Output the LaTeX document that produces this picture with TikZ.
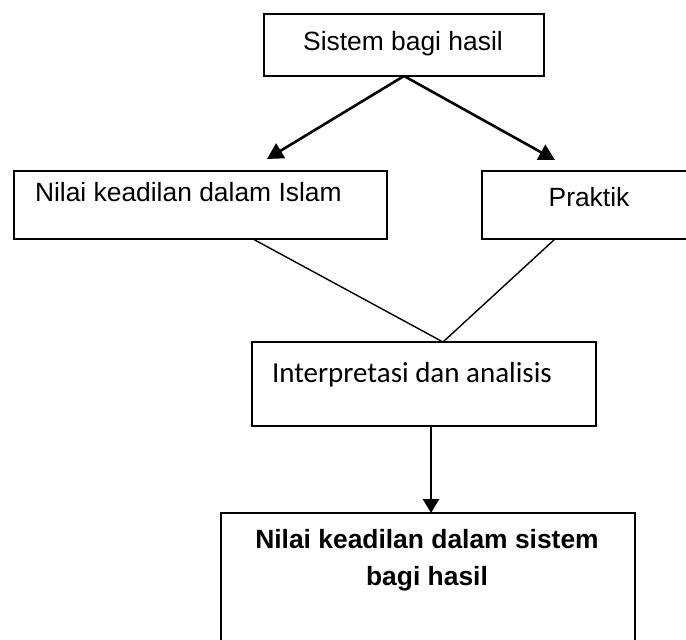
\documentclass[tikz,border=0pt]{standalone}
\usepackage{fontspec}
\setmainfont{Liberation Sans}
\newfontfamily\carlito{Carlito}
\usetikzlibrary{arrows.meta,calc}
\begin{document}
\begin{tikzpicture}[x=1pt,y=-1pt,
  box/.style={draw=black,line width=2.2pt,inner sep=0pt,outer sep=0pt,anchor=north west},
  lbl/.style={inner sep=0pt,outer sep=0pt,font=\fontsize{26.4}{37}\selectfont},
  arr/.style={line width=2.6pt,-{Triangle[length=16pt,width=17pt]}},
  thinline/.style={line width=1.4pt}]
\useasboundingbox (0,0) rectangle (686,640);
% boxes
\node[box,minimum width=280pt,minimum height=62pt] (b1) at (264,14) {};
\node[box,minimum width=373pt,minimum height=68pt] (b2) at (14,171) {};
\node[box,minimum width=230pt,minimum height=68pt] (b3) at (482,171) {};
\node[box,minimum width=344pt,minimum height=84pt] (b4) at (252,342) {};
\node[box,minimum width=414pt,minimum height=140pt] (b5) at (221,513) {};
% texts
\node[lbl,anchor=base] (t1) at (403,50) {Sistem bagi hasil};
\node[lbl,anchor=base west] (t2) at (35,201) {Nilai keadilan dalam Islam};
\node[lbl,anchor=base] (t3) at (589,206) {Praktik};
\node[inner sep=0pt,outer sep=0pt,anchor=base west,font=\carlito\fontsize{29}{35}\selectfont] (t4) at (272,382) {Interpretasi dan analisis};
\node[lbl,anchor=base,align=center,font=\bfseries\fontsize{26.4}{37}\selectfont] (t5) at (427,585) {Nilai keadilan dalam sistem\\bagi hasil};
% connectors
\coordinate (p1) at (267,159);
\coordinate (p2) at (555,160);
\draw[arr] (b1.south) -- (p1);
\draw[arr] (b1.south) -- (p2);
\coordinate (q1) at ($(b2.south west)+(239,0)$);
\coordinate (q2) at ($(b3.south west)+(73,0)$);
\coordinate (m) at ($(b4.north west)+(191,0)$);
\draw[thinline] (q1) -- (m) -- (q2);
\draw[line width=2.6pt,-{Triangle[length=14pt,width=16pt]}] ($(b4.south west)+(179,0)$) -- ($(b5.north west)+(210,0)$);
\end{tikzpicture}
\end{document}
